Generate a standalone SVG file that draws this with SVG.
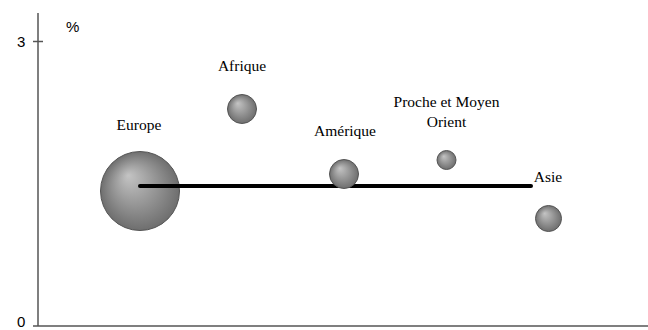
<svg xmlns="http://www.w3.org/2000/svg" width="648" height="330" viewBox="0 0 648 330">
<style>
.ax{stroke:#555;stroke-width:1.5;fill:none}
.al{font-family:"Liberation Sans",Arial,sans-serif;font-size:15px;fill:#000}
.lb{font-family:"Liberation Serif","Times New Roman",serif;font-size:15.5px;fill:#000;text-anchor:middle}
.b{fill:url(#g);stroke:#555;stroke-width:1}
</style>
<defs>
<radialGradient id="g" cx="0.5" cy="0.5" r="0.5" fx="0.35" fy="0.3">
<stop offset="0" stop-color="#c4c4c4"/>
<stop offset="1" stop-color="#6e6e6e"/>
</radialGradient>
</defs>
<rect width="648" height="330" fill="#fff"/>
<g id="axes">
<line class="ax" x1="38" y1="13" x2="38" y2="326"/>
<line class="ax" x1="33" y1="326" x2="648" y2="326"/>
<line class="ax" x1="33" y1="41.5" x2="43" y2="41.5"/>
<text class="al" x="17" y="47">3</text>
<text class="al" x="17" y="327">0</text>
<text class="al" x="66" y="32">%</text>
</g>
<g id="europe">
<circle class="b" cx="140" cy="191" r="39.5"/>
<text class="lb" x="139" y="130">Europe</text>
</g>
<g id="connectors">
<line x1="140" y1="186" x2="531" y2="186" stroke="#000" stroke-width="4" stroke-linecap="round"/>
</g>
<g id="afrique">
<circle class="b" cx="242" cy="109" r="14.5"/>
<text class="lb" x="242" y="71">Afrique</text>
</g>
<g id="amerique">
<circle class="b" cx="344" cy="174" r="14.5"/>
<text class="lb" x="345" y="136">Amérique</text>
</g>
<g id="proche">
<circle class="b" cx="446.5" cy="160" r="9.5"/>
<text class="lb" x="446.5" y="107">Proche et Moyen</text>
<text class="lb" x="446.5" y="127">Orient</text>
</g>
<g id="asie">
<circle class="b" cx="548.5" cy="218.5" r="13"/>
<text class="lb" x="548" y="182">Asie</text>
</g>
</svg>
